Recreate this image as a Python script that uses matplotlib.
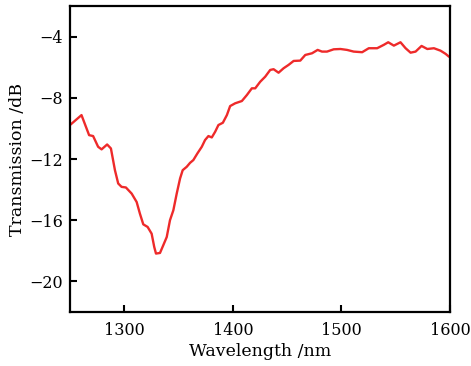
import matplotlib
matplotlib.use("Agg")
import matplotlib.pyplot as plt

wavelength = [1250, 1260.6, 1267.6, 1271.3, 1275.9, 1279.1, 1284.2, 1287.7, 1291.4, 1294.4,
              1297.5, 1301.5, 1306.8, 1311.4, 1314.4, 1317.5, 1321.5, 1325.2, 1327.6, 1329.2,
              1332.9, 1335.9, 1339.1, 1342.1, 1345.2, 1348.3, 1351.4, 1353.8, 1357.5, 1360.6,
              1363.6, 1367.3, 1371.4, 1374.4, 1377.5, 1380.6, 1383.7, 1386.7, 1390.8, 1394.5,
              1397.5, 1402.1, 1408.3, 1412.9, 1417.5, 1420.6, 1425.2, 1429.8, 1434.4, 1437.5,
              1442.1, 1446.7, 1451.3, 1456.0, 1462.1, 1466.7, 1472.9, 1478.1, 1482.1, 1486.7,
              1492.9, 1499.1, 1505.2, 1511.3, 1519.1, 1525.2, 1532.9, 1539.0, 1543.1, 1548.3,
              1554.4, 1559.1, 1563.7, 1568.3, 1573.8, 1579.1, 1585.2, 1591.3, 1596.0, 1599.0, 1600]
transmission = [-9.78, -9.13, -10.44, -10.50, -11.20, -11.37, -11.05, -11.31, -12.73, -13.60,
                -13.82, -13.86, -14.26, -14.81, -15.57, -16.27, -16.44, -16.88, -17.75, -18.18,
                -18.14, -17.64, -17.10, -16.00, -15.35, -14.26, -13.27, -12.73, -12.51, -12.25,
                -12.07, -11.64, -11.20, -10.76, -10.50, -10.59, -10.22, -9.78, -9.63, -9.13,
                -8.54, -8.36, -8.21, -7.82, -7.38, -7.38, -6.95, -6.62, -6.18, -6.13,
                -6.36, -6.07, -5.85, -5.59, -5.57, -5.20, -5.09, -4.87, -4.98, -4.98,
                -4.83, -4.81, -4.87, -4.98, -5.02, -4.76, -4.76, -4.54, -4.37, -4.59,
                -4.37, -4.76, -5.05, -4.98, -4.61, -4.81, -4.76, -4.92, -5.13, -5.31, -5.33]

xticks = [1300, 1400, 1500, 1600]
yticks = [-4, -8, -12, -16, -20]

plt.rcParams['font.family'] = ['DejaVu Serif']

fig = plt.figure(figsize=(4.71, 3.66), dpi=100)
ax = fig.add_axes([0.1486, 0.1475, 0.8068, 0.8361])
ax.plot(wavelength, transmission, color='#ee2a2a', lw=1.7, solid_joinstyle='round')
ax.set_xlim(1250, 1600)
ax.set_ylim(-22, -2)
ax.set_xticks(xticks)
ax.set_yticks(yticks)
ax.set_xticklabels([str(v) for v in xticks])
ax.set_yticklabels(['\u2212' + str(-v) for v in yticks])
ax.tick_params(direction='in', length=5, width=1.5, labelsize=11.5, top=False, right=False)
ax.tick_params(axis='x', pad=7)
ax.tick_params(axis='y', pad=5)
for s in ax.spines.values():
    s.set_linewidth(1.6)
ax.set_xlabel('Wavelength /nm', fontsize=12.5, labelpad=3)
ax.set_ylabel('Transmission /dB', fontsize=12.5, labelpad=2)
fig.savefig('out.png', dpi=100)
